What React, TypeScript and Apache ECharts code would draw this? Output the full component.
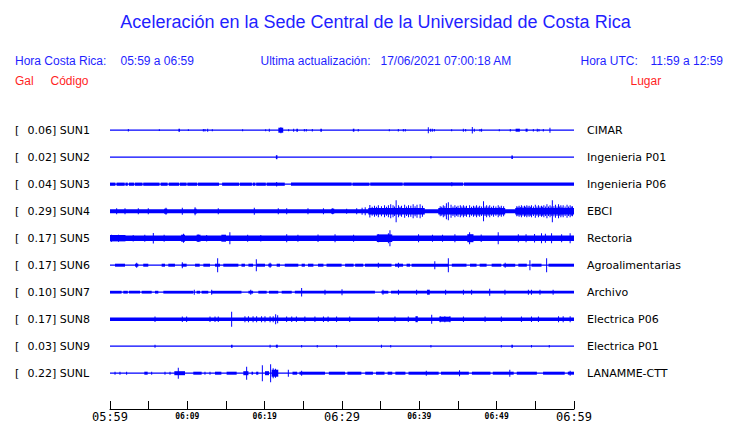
import React, { useEffect, useRef } from 'react';
import * as echarts from 'echarts';

// ---------- labels ----------
const codes = ['SUN1', 'SUN2', 'SUN3', 'SUN4', 'SUN5', 'SUN6', 'SUN7', 'SUN8', 'SUN9', 'SUNL'];
const galValues = ['0.06', '0.02', '0.04', '0.29', '0.17', '0.17', '0.10', '0.17', '0.03', '0.22'];
const places = ['CIMAR', 'Ingenieria P01', 'Ingenieria P06', 'EBCI', 'Rectoria', 'Agroalimentarias', 'Archivo', 'Electrica P06', 'Electrica P01', 'LANAMME-CTT'];
const startLocal = 5 * 60 + 59; // 05:59
const spanMinutes = 60;
const tickStep = 5;
const titleText = 'Aceleración en la Sede Central de la Universidad de Costa Rica';
const headerLocal = ['Hora Costa Rica:', '05:59 a 06:59'];
const headerUpdate = ['Ultima actualización:', '17/06/2021 07:00:18 AM'];
const headerUtc = ['Hora UTC:', '11:59 a 12:59'];

// ---------- traces: minutes after 05:59, half amplitude (relative units, 27 = one row) ----------
const AMP_PER_ROW = 27;

const sun1Base = 0.6;
const sun1Bands = [[8.85, 9.05, 1.5], [21.77, 22.4, 2.5], [24.1, 24.3, 1.5], [27.2, 27.4, 1.5], [31.4, 31.6, 1.5], [52.45, 53.0, 1.5], [53.74, 54.0, 1.5]];
const sun1Spikes = [[2.37, 1.3], [6.38, 0.9], [10.13, 0.9], [12.07, 1.2], [12.28, 1.2], [12.63, 1.5], [13.23, 1], [17.15, 1], [20.13, 1], [20.6, 1.5], [22.1, 3], [23.1, 1], [23.75, 1.5], [25.13, 1.2], [25.38, 1.2], [26.16, 1.2], [32.1, 1.2], [36.12, 1], [37.28, 1.2], [37.93, 1.2], [38.18, 1.2], [41.16, 3], [41.46, 1.5], [41.68, 1.5], [41.94, 1.2], [44.18, 1], [45.69, 1.5], [45.99, 1.2], [46.85, 3.3], [47.11, 1.5], [47.84, 1.2], [48.05, 1.5], [50.34, 1], [51.76, 1.2], [54.74, 1.2], [55.25, 1.5], [55.47, 1.2], [56.03, 1.2], [56.89, 2.5]];

const sun2Base = 0.6;
const sun2Bands = [[21.45, 21.65, 2], [51.9, 52.1, 1.8]];
const sun2Spikes = [[41.5, 1.2]];

const sun3Base = 0.6;
const sun3BandAmp = 1.6;
const sun3Gaps = [[0.7, 0.85], [1.9, 2.0], [2.3, 2.45], [3.1, 3.2], [4.2, 4.3], [6.4, 6.55], [7.45, 7.6], [8.95, 9.05], [9.9, 10.0], [11.28, 11.38], [14.1, 14.5], [16.7, 16.8], [18.35, 18.45], [18.8, 18.9], [20.15, 20.25], [22.6, 23.4], [31.25, 31.35], [33.55, 33.65], [37.85, 37.95], [45.65, 45.75]];
const sun3Spikes = [[21.55, 2.2], [44.2, 2]];

const sun4Base = 2;
const sun4Bands = [[7.0, 7.4, 2.5], [10.9, 11.2, 2.5], [28.6, 29.0, 2.5], [33.4, 40.7, 3.3], [42.45, 51.1, 3.3], [52.4, 60, 3.3]];
const sun4Spikes = [[0.86, 3], [1.94, 3], [3.66, 3], [4.95, 3], [7.24, 3.5], [9.35, 3.5], [11.0, 4], [14.0, 3], [18.66, 3.5], [21.76, 3], [22.85, 3], [25.6, 3], [27.6, 3], [28.8, 3], [30.6, 2.5], [31.9, 3], [32.6, 3.5], [33.0, 4],
  [33.6, 6.3], [33.9, 4.5], [34.2, 5.5], [34.45, 4.5], [34.7, 6], [35.1, 5], [35.5, 6], [35.75, 4.5], [36.0, 6], [36.3, 7], [36.6, 6], [36.8, 4.8], [37.0, 11], [37.3, 6], [37.5, 4.5], [37.7, 5.5], [38.1, 6.5], [38.35, 4.8], [38.6, 6], [38.9, 5.5], [39.2, 7], [39.45, 5], [39.7, 6.5], [40.1, 7], [40.4, 5.5],
  [42.7, 5], [42.9, 4.5], [43.1, 6], [43.3, 5], [43.5, 8], [43.75, 9], [44.1, 6.5], [44.35, 4.8], [44.6, 6], [44.8, 4.5], [45.0, 5.5], [45.3, 6], [45.5, 4.6], [45.7, 6], [45.9, 4.8], [46.1, 5.5], [46.5, 6], [46.75, 4.5], [47.0, 5.5], [47.2, 4.6], [47.4, 6], [47.6, 4.5], [47.8, 5.5], [48.05, 4.8], [48.3, 10], [48.5, 4.8], [48.7, 6], [48.9, 4.6], [49.1, 6], [49.35, 4.5], [49.6, 5.5], [49.9, 4.6], [50.2, 6], [50.4, 4.5], [50.6, 5.5], [50.9, 5],
  [52.6, 5], [52.75, 4.5], [52.9, 5.5], [53.05, 4.3], [53.2, 6], [53.4, 4.6], [53.6, 5.5], [53.75, 4.5], [53.9, 6], [54.05, 4.6], [54.2, 5.5], [54.35, 4.5], [54.5, 6], [54.75, 4.8], [55.0, 6.5], [55.2, 4.6], [55.4, 6], [55.6, 4.7], [55.8, 5.5], [55.95, 4.5], [56.1, 6], [56.3, 4.8], [56.5, 7], [56.7, 4.8], [56.9, 6], [57.05, 4.8], [57.2, 11], [57.4, 5], [57.6, 6.5], [57.8, 4.8], [58.0, 7], [58.15, 4.6], [58.3, 6], [58.45, 4.5], [58.6, 6], [58.85, 4.7], [59.1, 6.5], [59.3, 4.8], [59.5, 6], [59.65, 4.6], [59.8, 5]];

const sun5Base = 2.7;
const sun5Bands = [[0, 2, 3.2], [9.2, 9.7, 3.5], [11.2, 11.7, 3.5], [14.4, 15.0, 3.5], [34.5, 36.5, 3.8], [46.2, 47.0, 4]];
const sun5Spikes = [[0.2, 3.5], [1.1, 3.5], [3.0, 3.3], [4.5, 3.5], [5.6, 5.3], [7.0, 3.5], [9.5, 4.5], [11.4, 3.8], [12.5, 3.3], [15.5, 6], [17.8, 3.5], [19.5, 3.3], [22.85, 4], [24.3, 3.5], [26.9, 3.8], [29.1, 4], [31.5, 3.5], [34.7, 4], [36.0, 5], [36.2, 8], [39.9, 4], [41.7, 3.5], [43.0, 3.5], [44.6, 4], [46.5, 6], [48.0, 3.8], [50.2, 6], [52.8, 4], [53.8, 4], [54.9, 4.2], [55.8, 5], [56.3, 4.5], [57.1, 5], [58.4, 4], [59.5, 5]];

const sun6Base = 0.6;
const sun6Bands = [[0.65, 1.94, 1.5], [3.23, 3.66, 1.5], [4.3, 4.95, 1.5], [6.68, 7.11, 1.5], [7.54, 8.4, 1.5], [9.27, 9.91, 1.5], [11.0, 11.6, 1.5], [12.07, 12.93, 1.5], [13.58, 14.22, 1.5], [14.65, 16.6, 1.5], [17.0, 17.45, 1.5], [17.9, 18.5, 1.5], [18.96, 20.04, 1.5], [20.47, 20.9, 1.5], [21.55, 21.98, 1.5], [22.6, 24.35, 1.5], [24.78, 25.2, 1.5], [25.6, 26.3, 1.5], [26.9, 27.6, 1.5], [28.0, 29.95, 1.5], [30.4, 31.5, 1.5], [31.7, 32.75, 1.5], [32.97, 36.4, 1.5], [36.85, 37.9, 1.5], [38.35, 38.8, 1.5], [39.0, 43.75, 1.5], [44.2, 46.1, 1.5], [46.55, 47.4, 1.5], [47.8, 48.7, 1.5], [49.35, 50.6, 1.5], [50.86, 52.4, 1.5], [52.8, 53.9, 1.5], [54.5, 55.8, 1.5], [56.7, 60, 1.5]];
const sun6Spikes = [[3.45, 2.5], [9.35, 3], [13.92, 7], [18.92, 6], [20.7, 2.5], [34.7, 2.5], [37.3, 2.5], [42.0, 4], [43.75, 7], [51.1, 2.5], [54.3, 5], [56.46, 7]];

const sun7Base = 0.6;
const sun7BandAmp = 1.4;
const sun7Gaps = [[1.5, 1.72], [2.3, 2.46], [3.88, 4.1], [5.39, 5.82], [6.25, 6.9], [10.77, 11.2], [11.64, 11.85], [12.71, 13.06], [17.0, 17.9], [18.5, 19.18], [20.26, 20.56], [21.76, 22.2], [23.5, 23.9], [34.26, 35.1], [35.99, 36.33]];
const sun7Bands = [[41.0, 41.35, 2.5]];
const sun7Spikes = [[10.9, 2.5], [13.15, 2.5], [18.2, 2.5], [24.78, 4.3], [27.8, 2.5], [30.0, 3], [35.3, 2.5], [37.3, 2.5], [39.65, 2.5], [43.4, 2.5], [45.7, 2.5], [46.76, 2.5], [49.1, 3.5], [51.07, 2.5], [54.1, 2.5], [54.5, 2.5], [55.6, 2.5], [57.3, 2.5]];

const sun8Base = 1.8;
const sun8Bands = [[39.5, 39.8, 3], [42.6, 44.0, 2.5]];
const sun8Spikes = [[5.82, 2.8], [9.35, 2.8], [9.91, 2.8], [12.93, 2.8], [13.58, 2.8], [14.0, 2.8], [15.73, 7.5], [17.45, 3], [17.9, 3], [18.5, 3], [18.96, 3], [19.6, 3], [20.04, 3], [20.7, 3], [21.1, 3], [21.42, 5], [21.68, 4], [22.84, 2.8], [23.5, 2.8], [24.1, 2.8], [25.2, 2.8], [26.5, 2.8], [27.6, 2.8], [28.2, 2.8], [29.3, 2.8], [31.0, 2.8], [34.7, 2.8], [36.85, 2.8], [38.57, 2.8], [41.6, 4.5], [42.7, 3], [43.3, 3], [43.96, 3], [45.7, 2.8], [48.5, 2.8], [50.6, 2.8], [53.2, 2.8], [54.5, 2.8], [55.4, 2.8], [58.0, 3], [58.6, 3], [59.5, 3]];

const sun9Base = 0.6;
const sun9Bands = [[15.65, 15.85, 1.5], [21.45, 21.7, 1.5], [51.9, 52.1, 1.5]];
const sun9Spikes = [[5.82, 1.5], [20.7, 1.5], [24.78, 1.3], [26.8, 1.2], [29.3, 1.2], [35.1, 1.5], [36.3, 1.2], [41.5, 1.3], [50.6, 1.2], [54.5, 1.2], [56.8, 1.2]];

const sunLBase = 0.6;
const sunLBands = [[4.44, 4.87, 1.5], [8.32, 9.7, 2], [10.77, 11.85, 1.5], [13.58, 14.4, 1.5], [15.08, 16.38, 1.5], [17.24, 17.9, 2], [18.3, 18.5, 1.5], [18.9, 19.18, 1.5], [20.04, 20.56, 2], [20.9, 21.76, 3.5], [23.6, 24.2, 1.5], [24.5, 27.8, 1.5], [28.3, 30.4, 1.5], [30.7, 32.5, 1.5], [33.0, 34.0, 1.5], [34.4, 35.5, 1.5], [35.9, 36.5, 1.5], [36.9, 38.2, 1.5], [38.6, 42.5, 1.5], [42.8, 46.4, 1.5], [46.8, 49.2, 1.5], [49.5, 52.2, 1.5], [52.6, 55.2, 1.5], [56.0, 58.8, 1.5], [59.2, 60, 1.5]];
const sunLSpikes = [[0.65, 1.5], [1.29, 1.5], [2.15, 1.5], [5.39, 1.5], [7.11, 1.5], [7.76, 1.5], [8.83, 5.5], [12.28, 1.5], [12.93, 1.5], [17.67, 6.5], [19.7, 8], [20.77, 9], [21.1, 5], [21.4, 4.5], [23.06, 3.5], [24.78, 2.5], [40.9, 2.5], [45.2, 3], [51.7, 3.5], [59.5, 2.5]];

// bands filling everything outside the listed gaps
function bandsOutsideGaps(gaps: number[][], amp: number): number[][] {
  const out: number[][] = [];
  let t = 0;
  for (const [g0, g1] of gaps) {
    if (g0 > t) out.push([t, g0, amp]);
    t = g1;
  }
  if (t < spanMinutes) out.push([t, spanMinutes, amp]);
  return out;
}

const stations = [
  { base: sun1Base, bands: sun1Bands, spikes: sun1Spikes },
  { base: sun2Base, bands: sun2Bands, spikes: sun2Spikes },
  { base: sun3Base, bands: bandsOutsideGaps(sun3Gaps, sun3BandAmp), spikes: sun3Spikes },
  { base: sun4Base, bands: sun4Bands, spikes: sun4Spikes },
  { base: sun5Base, bands: sun5Bands, spikes: sun5Spikes },
  { base: sun6Base, bands: sun6Bands, spikes: sun6Spikes },
  { base: sun7Base, bands: bandsOutsideGaps(sun7Gaps, sun7BandAmp).concat(sun7Bands), spikes: sun7Spikes },
  { base: sun8Base, bands: sun8Bands, spikes: sun8Spikes },
  { base: sun9Base, bands: sun9Bands, spikes: sun9Spikes },
  { base: sunLBase, bands: sunLBands, spikes: sunLSpikes },
];

function fmtTime(m: number): string {
  const h = Math.floor(m / 60) % 24;
  const mm = m % 60;
  return String(h).padStart(2, '0') + ':' + String(mm).padStart(2, '0');
}

const BLUE = '#0000ff';
const TXT_BLUE = '#1f1fff';
const RED = '#ff1f1f';
const SANS = '"Liberation Sans", Arial, sans-serif';
const DEJAVU = '"DejaVu Sans", sans-serif';
const MONO = '"DejaVu Sans Mono", monospace';

export default function App() {
  const ref = useRef<HTMLDivElement>(null);
  useEffect(() => {
    if (!ref.current) return;
    const chart = echarts.init(ref.current, null, { renderer: 'svg' });

    const items: number[][] = [];
    stations.forEach((s, row) => {
      items.push([0, spanMinutes, row, s.base]);
      s.bands.forEach((b) => items.push([b[0], b[1], row, b[2]]));
      s.spikes.forEach((p) => items.push([p[0], p[0], row, p[1]]));
    });

    const yCommon = {
      type: 'value' as const,
      inverse: true,
      min: -1,
      max: 10.326,
      interval: 1,
      axisLine: { show: false },
      axisTick: { show: false },
      splitLine: { show: false },
    };

    chart.setOption({
      animation: false,
      backgroundColor: '#ffffff',
      grid: { left: 110, right: 166, top: 103.2, bottom: 14 },
      xAxis: {
        type: 'value',
        position: 'bottom',
        min: 0,
        max: spanMinutes,
        interval: tickStep,
        axisLine: { show: true, onZero: false, lineStyle: { color: '#000', width: 1 } },
        axisTick: { show: true, inside: true, length: 8, lineStyle: { color: '#000', width: 1 } },
        splitLine: { show: false },
        axisLabel: {
          margin: 2,
          showMinLabel: true,
          showMaxLabel: true,
          formatter: (v: number) => {
            if (v % 30 === 0) return '{big|' + fmtTime(startLocal + v) + '}';
            if (v % 10 === 0) return '{small|' + fmtTime(startLocal + v) + '}';
            return '';
          },
          rich: {
            big: { fontFamily: MONO, fontSize: 12, color: '#000', lineHeight: 12 },
            small: { fontFamily: MONO, fontSize: 8, fontWeight: 'bold', color: '#000', lineHeight: 10 },
          },
        },
      },
      yAxis: [
        {
          ...yCommon,
          position: 'left',
          axisLabel: {
            margin: 95,
            align: 'left',
            formatter: (v: number) => {
              if (!Number.isInteger(v) || v < 0 || v >= codes.length) return '';
              return '{a|[}{b|' + galValues[v] + '] ' + codes[v] + '}';
            },
            rich: {
              a: { fontFamily: DEJAVU, fontSize: 11, color: '#000', width: 12.5 },
              b: { fontFamily: DEJAVU, fontSize: 11, color: '#000' },
            },
          },
        },
        {
          ...yCommon,
          position: 'right',
          axisLabel: {
            margin: 13,
            align: 'left',
            fontFamily: DEJAVU,
            fontSize: 11,
            color: '#000',
            formatter: (v: number) => {
              if (!Number.isInteger(v) || v < 0 || v >= places.length) return '';
              return places[v];
            },
          },
        },
      ],
      series: [
        {
          type: 'custom',
          clip: false,
          xAxisIndex: 0,
          yAxisIndex: 0,
          encode: { x: [0, 1], y: 2 },
          data: items,
          renderItem: (params: any, api: any) => {
            const t0 = api.value(0);
            const t1 = api.value(1);
            const row = api.value(2);
            const a = api.value(3) / AMP_PER_ROW;
            const p0 = api.coord([t0, row - a]);
            const p1 = api.coord([t1, row + a]);
            let w = Math.abs(p1[0] - p0[0]);
            let x = Math.min(p0[0], p1[0]);
            if (w < 1) { x = x - 0.5; w = 1; }
            let h = Math.abs(p1[1] - p0[1]);
            let y = Math.min(p0[1], p1[1]);
            if (h < 1) { y = (p0[1] + p1[1]) / 2 - 0.5; h = 1; }
            return { type: 'rect', shape: { x, y, width: w, height: h }, style: { fill: BLUE } };
          },
        },
      ],
      graphic: [
        { type: 'text', x: 375.5, y: 22, style: { text: titleText, fill: TXT_BLUE, font: '18px ' + SANS, textAlign: 'center', textVerticalAlign: 'middle' } },
        { type: 'text', x: 15, y: 61, style: { text: headerLocal[0], fill: TXT_BLUE, font: '12px ' + SANS, textVerticalAlign: 'middle' } },
        { type: 'text', x: 120.5, y: 61, style: { text: headerLocal[1], fill: TXT_BLUE, font: '12px ' + SANS, textVerticalAlign: 'middle' } },
        { type: 'text', x: 260.5, y: 61, style: { text: headerUpdate[0], fill: TXT_BLUE, font: '12px ' + SANS, textVerticalAlign: 'middle' } },
        { type: 'text', x: 380.5, y: 61, style: { text: headerUpdate[1], fill: TXT_BLUE, font: '12px ' + SANS, textVerticalAlign: 'middle' } },
        { type: 'text', x: 580.5, y: 61, style: { text: headerUtc[0], fill: TXT_BLUE, font: '12px ' + SANS, textVerticalAlign: 'middle' } },
        { type: 'text', x: 650.5, y: 61, style: { text: headerUtc[1], fill: TXT_BLUE, font: '12px ' + SANS, textVerticalAlign: 'middle' } },
        { type: 'text', x: 15, y: 81, style: { text: 'Gal', fill: RED, font: '12px ' + SANS, textVerticalAlign: 'middle' } },
        { type: 'text', x: 50.5, y: 81, style: { text: 'Código', fill: RED, font: '12px ' + SANS, textVerticalAlign: 'middle' } },
        { type: 'text', x: 630.5, y: 81, style: { text: 'Lugar', fill: RED, font: '12px ' + SANS, textVerticalAlign: 'middle' } },
      ],
    });
    return () => chart.dispose();
  }, []);
  return <div ref={ref} style={{ position: 'fixed', left: 0, top: 0, width: 740, height: 423, background: '#fff' }} />;
}
